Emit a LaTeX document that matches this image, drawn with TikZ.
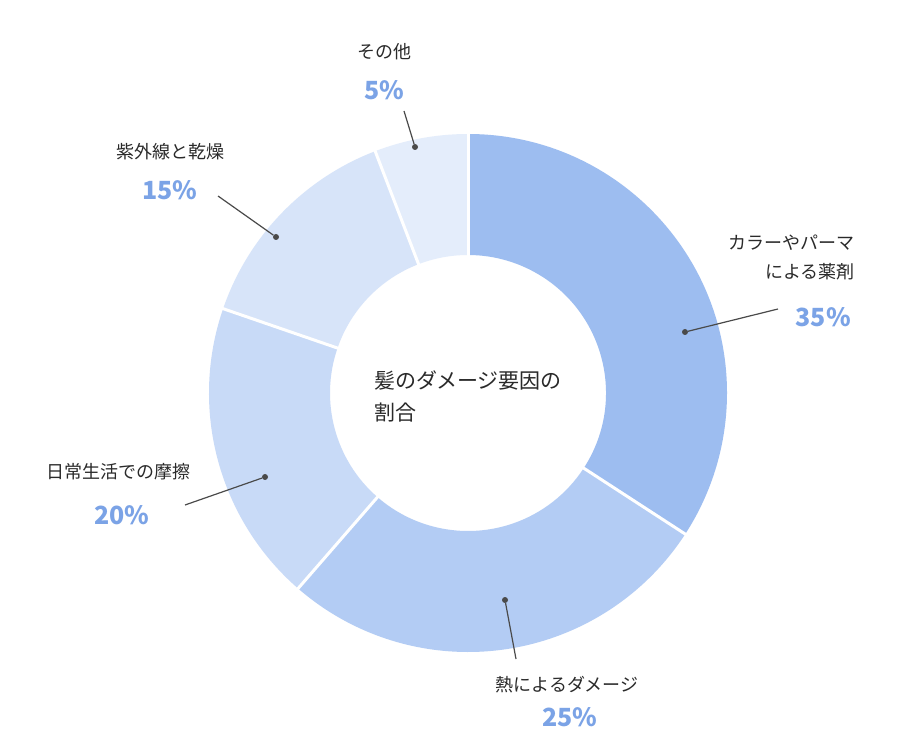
\documentclass[tikz,border=0pt]{standalone}
\usepackage{fontspec}
\setmainfont{Noto Sans CJK JP}
\usetikzlibrary{calc}
\definecolor{cA}{HTML}{9DBDF0}
\definecolor{cB}{HTML}{B3CCF4}
\definecolor{cC}{HTML}{C8DAF7}
\definecolor{cD}{HTML}{D7E4F9}
\definecolor{cE}{HTML}{E4EDFB}
\definecolor{pct}{HTML}{7BA3E6}
\definecolor{txt}{HTML}{2A2A2A}
\tikzset{
 lbl/.style={font=\fontsize{18}{21}\selectfont, text=txt, inner sep=0pt},
 pc/.style={font=\fontsize{25}{29}\selectfont\bfseries, text=pct, inner sep=0pt},
 dotn/.style={circle, fill=txt!85, inner sep=0pt, minimum size=6pt},
 lead/.style={draw=txt!85, line width=1.2pt},
 sep/.style={draw=white, line width=3pt}
}
\newcommand{\ringseg}[3]{%
 \fill[#3] ([shift={(#1:259)}]ctr) arc[start angle=#1,end angle=#2,radius=259]
   -- ([shift={(#2:138)}]ctr) arc[start angle=#2,end angle=#1,radius=138] -- cycle;}
\begin{document}
\begin{tikzpicture}[x=1pt,y=1pt]
\useasboundingbox[fill=white] (0,0) rectangle (910,745);
\coordinate (ctr) at (468,352);
\ringseg{90}{-33}{cA}
\ringseg{-33}{-131}{cB}
\ringseg{-131}{-199}{cC}
\ringseg{-199}{-249}{cD}
\ringseg{-249}{-270}{cE}
\foreach \a in {90,-33,-131,-199,-249}{\draw[sep] ([shift={(\a:136)}]ctr) -- ([shift={(\a:262)}]ctr);}
\node[lbl, font=\fontsize{21}{32}\selectfont, align=left] (ct) at (468,349) {髪のダメージ要因の\\割合};
% 35
\node[dotn] (d1) at (685,413) {};
\coordinate (e1) at (778,436);
\draw[lead] (d1) -- (e1);
\node[lbl, anchor=east] (t1a) at (855,502) {カラーやパーマ};
\node[lbl, anchor=east] (t1b) at (855,473) {による薬剤};
\node[pc, anchor=east] (p1) at (851,428) {35\%};
% 25
\node[dotn] (d2) at (505,145) {};
\coordinate (e2) at (516,86);
\draw[lead] (d2) -- (e2);
\node[lbl] (t2) at (567,60) {熱によるダメージ};
\node[pc] (p2) at (570,28) {25\%};
% 20
\node[dotn] (d3) at (265,268) {};
\coordinate (e3) at (185,240);
\draw[lead] (d3) -- (e3);
\node[lbl] (t3) at (118,273) {日常生活での摩擦};
\node[pc] (p3) at (122,230) {20\%};
% 15
\node[dotn] (d4) at (276,508) {};
\coordinate (e4) at (218,549);
\draw[lead] (d4) -- (e4);
\node[lbl] (t4) at (170,593) {紫外線と乾燥};
\node[pc] (p4) at (170,555) {15\%};
% 5
\node[dotn] (d5) at (415,598) {};
\coordinate (e5) at (404,634);
\draw[lead] (d5) -- (e5);
\node[lbl] (t5) at (384,693) {その他};
\node[pc] (p5) at (384,655) {5\%};
\end{tikzpicture}
\end{document}
